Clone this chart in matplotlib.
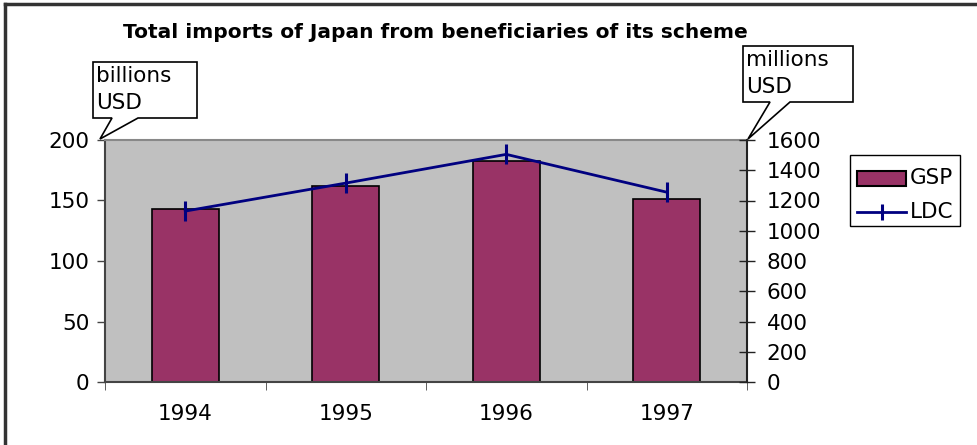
import matplotlib
matplotlib.use("Agg")
import matplotlib.pyplot as plt
from matplotlib.patches import Polygon
from matplotlib.lines import Line2D
import numpy as np

plt.rcParams['font.family'] = ['DejaVu Sans']

years = ["1994", "1995", "1996", "1997"]
gsp = [143, 162, 183, 151]        # billions USD, left axis
ldc = [1130, 1315, 1505, 1255]    # millions USD, right axis

W, H = 977, 445
FS = 15.5
fig = plt.figure(figsize=(W / 100, H / 100), dpi=100)


# pixel -> figure fraction
def fx(x):
    return x / W


def fy(y):
    return 1 - y / H


ax = fig.add_axes([fx(105), fy(382), fx(747) - fx(105), fy(140) - fy(382)])
ax.set_facecolor("#c0c0c0")
x = np.arange(len(years))
ax.bar(x, gsp, width=0.42, color="#993366", edgecolor="black", linewidth=1.2, zorder=2)
ax.set_xlim(-0.5, 3.5)
ax.set_ylim(0, 200)
ax.set_yticks([0, 50, 100, 150, 200])
ax.set_xticks(x)
ax.set_xticklabels(years)
ax.set_xticks(np.arange(-0.5, 4, 1), minor=True)
ax.tick_params(axis="x", which="major", length=0, pad=16, labelsize=FS)
ax.tick_params(axis="x", which="minor", length=6, color="#444444", direction="out")
ax.tick_params(axis="y", length=6, width=1, color="#444444", labelsize=FS, pad=5)
for s in ["left", "bottom"]:
    ax.spines[s].set_color("#444444")
    ax.spines[s].set_linewidth(1.5)
ax.spines["top"].set_color("#888888")
ax.spines["top"].set_linewidth(1.5)
ax.spines["right"].set_visible(False)

ax2 = ax.twinx()
ax2.plot(x, ldc, color="#000080", linewidth=2, marker="|", markersize=14,
         markeredgewidth=2.2, zorder=3)
ax2.set_ylim(0, 1600)
ax2.set_yticks(np.arange(0, 1601, 200))
ax2.tick_params(axis="y", length=12, width=1, direction="inout", color="#222222",
                labelsize=FS, pad=8)
ax2.spines["right"].set_color("#222222")
ax2.spines["right"].set_linewidth(1.5)
for s in ["left", "top", "bottom"]:
    ax2.spines[s].set_visible(False)

fig.text(fx(435), fy(33), "Total imports of Japan from beneficiaries of its scheme",
         ha="center", va="center", fontsize=14.5, fontweight="bold")

# outer chart frame (only top and left edges are in view)
fig.add_artist(Line2D([fx(5), fx(977)], [fy(4), fy(4)], color="#333333", lw=2.5))
fig.add_artist(Line2D([fx(5), fx(5)], [fy(4), fy(445)], color="#333333", lw=2.5))


# callout boxes with a pointer tail
def callout(box, tail, tip, lines):
    l, t, r, b = box
    pts = [(l, t), (r, t), (r, b), (tail[1], b), tip, (tail[0], b), (l, b)]
    fig.add_artist(Polygon([(fx(px), fy(py)) for px, py in pts], closed=True,
                           facecolor="white", edgecolor="black", lw=1.2,
                           transform=fig.transFigure))
    fig.text(fx(l + 3), fy(t + 14), lines[0], fontsize=FS, va="center")
    fig.text(fx(l + 3), fy(t + 41), lines[1], fontsize=FS, va="center")


callout((93, 62, 197, 118), (112, 138), (100, 139), ["billions", "USD"])
callout((743, 46, 853, 102), (770, 790), (748, 139), ["millions", "USD"])

# legend box
fig.add_artist(Polygon([(fx(850), fy(155)), (fx(960), fy(155)), (fx(960), fy(226)),
                        (fx(850), fy(226))], closed=True, facecolor="white",
                       edgecolor="black", lw=1, transform=fig.transFigure))
fig.add_artist(Polygon([(fx(857), fy(171)), (fx(906), fy(171)), (fx(906), fy(186)),
                        (fx(857), fy(186))], closed=True, facecolor="#993366",
                       edgecolor="black", lw=1.5, transform=fig.transFigure))
fig.text(fx(910), fy(178), "GSP", fontsize=FS, va="center")
fig.add_artist(Line2D([fx(857), fx(906)], [fy(212), fy(212)], color="#000080", lw=2))
fig.add_artist(Line2D([fx(882)], [fy(212)], color="#000080", marker="|",
                      markersize=12, markeredgewidth=2.2))
fig.text(fx(910), fy(212), "LDC", fontsize=FS, va="center")

fig.savefig("out.png", dpi=100)
